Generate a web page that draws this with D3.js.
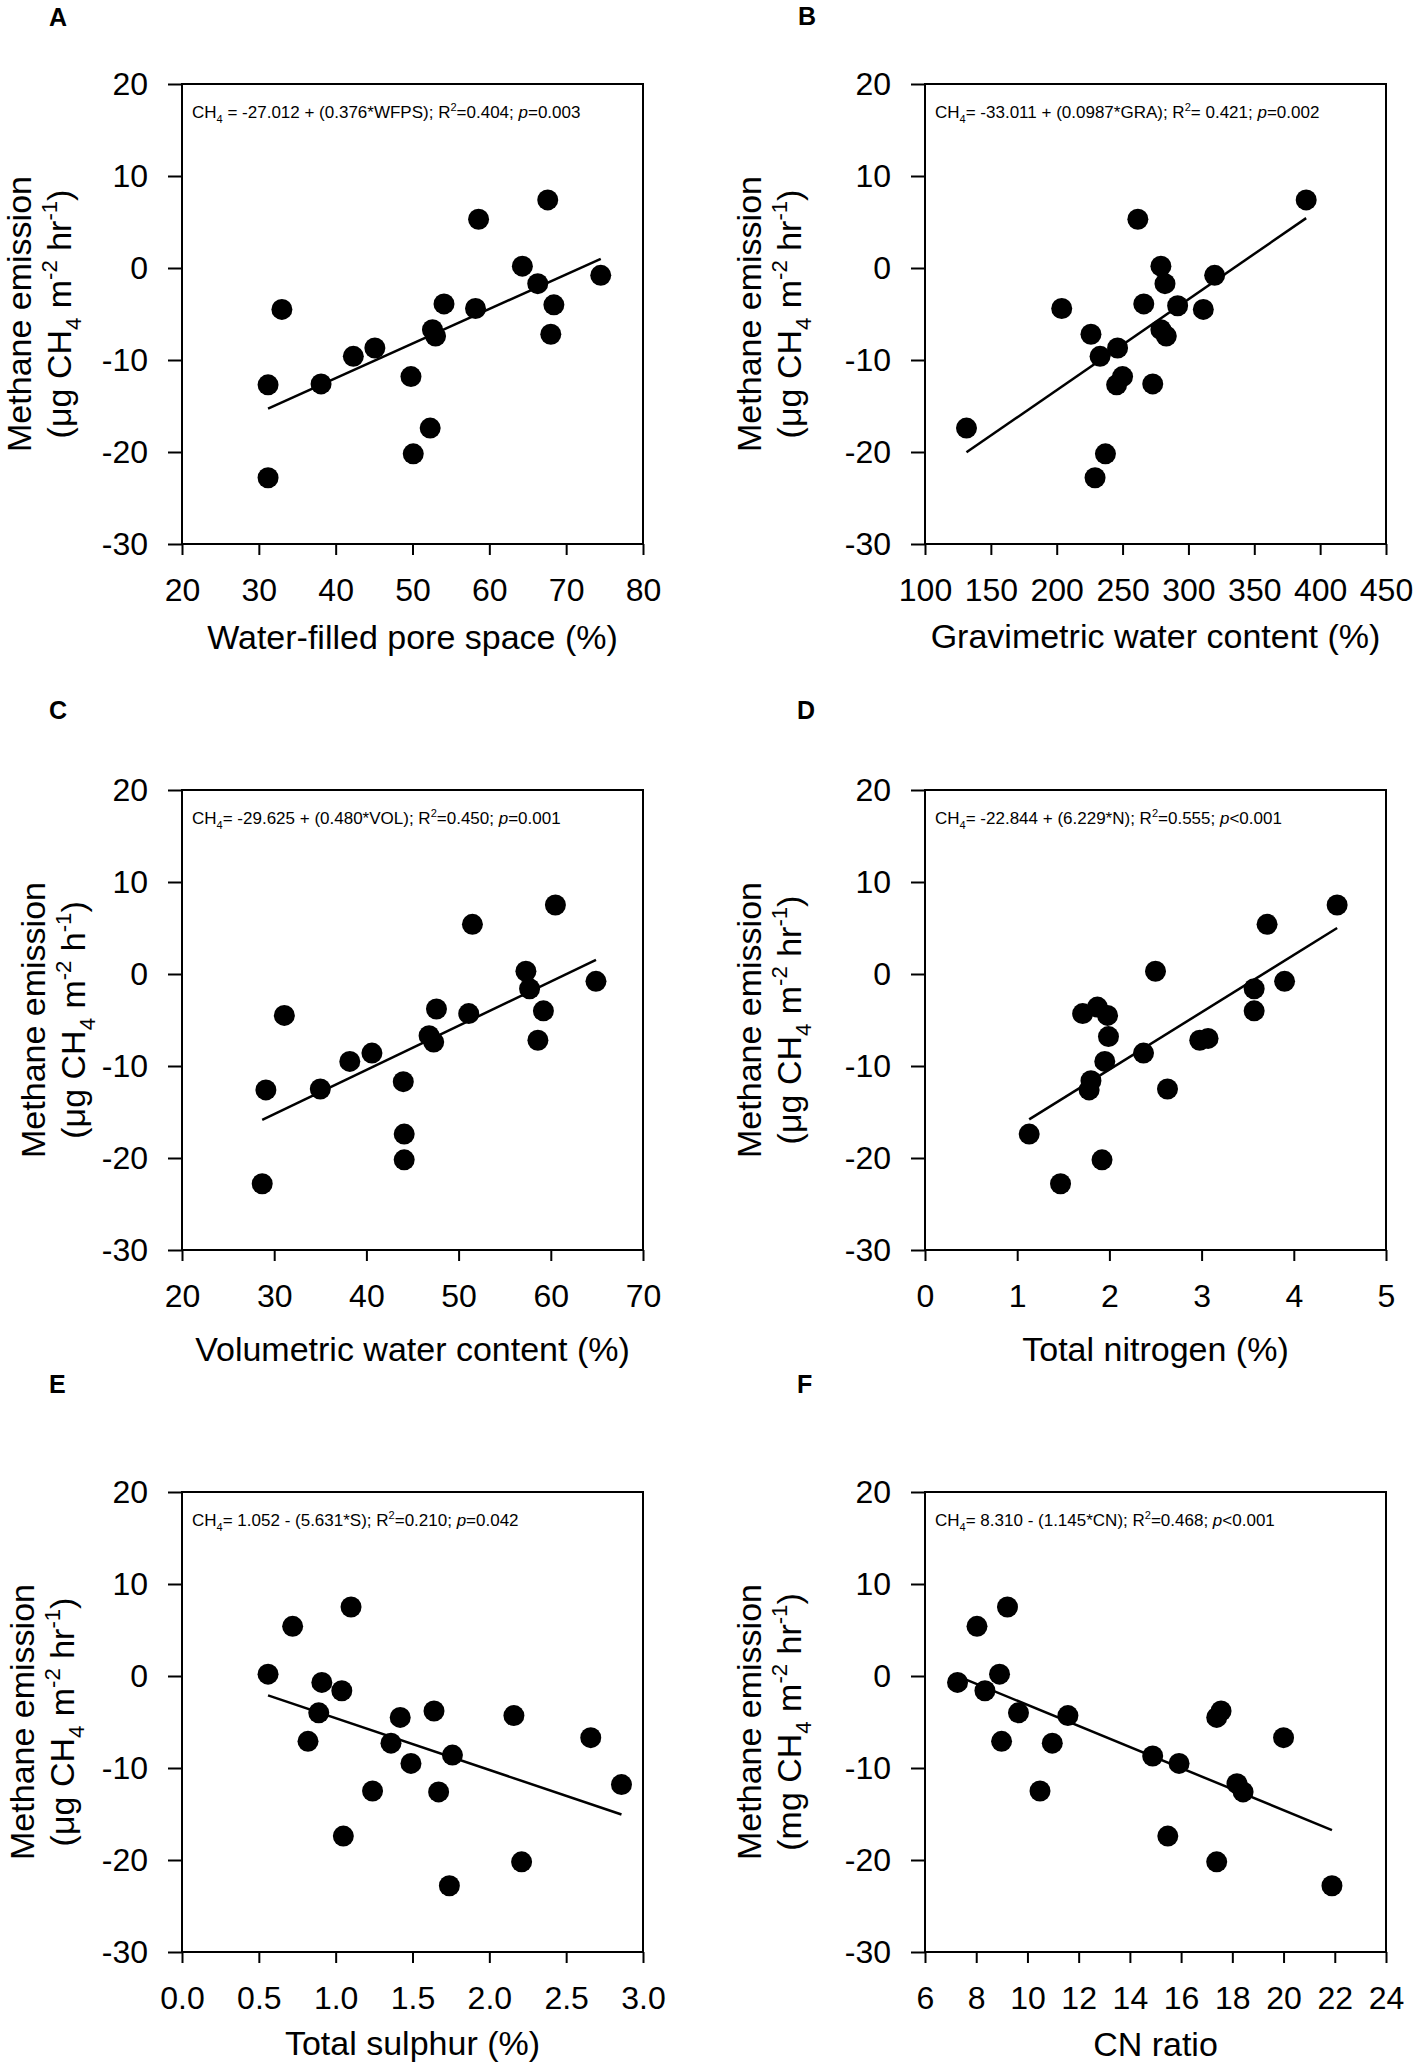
<!DOCTYPE html>
<html lang="en">
<head>
<meta charset="utf-8">
<title>Methane emission vs soil properties</title>
<script src="https://d3js.org/d3.v7.min.js"></script>
<style>
  html, body { margin: 0; padding: 0; background: #fff; }
  svg { display: block; }
  text { font-family: "Liberation Sans", Arial, sans-serif; fill: #000; }
</style>
</head>
<body>
<svg id="chart" width="1417" height="2064"></svg>
<script>
// ---- data ----
const yTicks = [-30, -20, -10, 0, 10, 20];

// A: water-filled pore space
const wfps = [31.2, 31.2, 33.0, 38.1, 42.3, 45.1, 49.8, 50.1, 52.3, 52.6, 53.0, 54.1, 58.2, 58.6, 64.3, 66.3, 67.6, 68.4, 68.0, 74.5];
const methaneA = [-12.7, -22.8, -4.5, -12.6, -9.6, -8.7, -11.8, -20.2, -17.4, -6.7, -7.4, -3.9, -4.4, 5.3, 0.2, -1.7, 7.4, -4.0, -7.2, -0.8];
const xTicksA = [20, 30, 40, 50, 60, 70, 80];

// B: gravimetric water content
const gra = [131.5, 203.8, 226.0, 232.9, 229.1, 237.0, 246.2, 245.5, 250.0, 261.6, 266.1, 272.9, 279.1, 282.2, 279.1, 283.2, 291.8, 311.3, 319.9, 389.4];
const methaneB = [-17.4, -4.4, -7.2, -9.6, -22.8, -20.2, -8.7, -12.7, -11.8, 5.3, -3.9, -12.6, 0.2, -1.7, -6.7, -7.4, -4.1, -4.5, -0.8, 7.4];
const xTicksB = [100, 150, 200, 250, 300, 350, 400, 450];

// C: volumetric water content
const vol = [29.1, 28.7, 31.1, 35.0, 38.2, 40.6, 44.0, 44.1, 44.1, 46.8, 47.3, 47.6, 51.1, 51.5, 57.3, 57.7, 60.5, 59.2, 58.6, 64.9];
const methaneC = [-12.6, -22.8, -4.5, -12.5, -9.5, -8.6, -11.7, -17.4, -20.2, -6.7, -7.4, -3.8, -4.3, 5.4, 0.3, -1.6, 7.5, -4.0, -7.2, -0.8];
const xTicksC = [20, 30, 40, 50, 60, 70];

// D: total nitrogen
const nitrogen = [1.13, 1.47, 1.71, 1.78, 1.80, 1.87, 1.98, 1.99, 1.95, 1.92, 2.37, 2.50, 2.63, 2.98, 3.07, 3.57, 3.57, 3.71, 3.90, 4.47];
const methaneD = [-17.4, -22.8, -4.3, -12.6, -11.6, -3.6, -4.5, -6.8, -9.5, -20.2, -8.6, 0.3, -12.5, -7.2, -7.0, -1.6, -4.0, 5.4, -0.8, 7.5];
const xTicksD = [0, 1, 2, 3, 4, 5];

// E: total sulphur
const sulphur = [0.56, 0.72, 1.10, 0.91, 0.89, 0.82, 1.04, 1.05, 1.24, 1.36, 1.42, 1.49, 1.64, 1.67, 1.76, 1.74, 2.16, 2.21, 2.66, 2.86];
const methaneE = [0.2, 5.4, 7.5, -0.7, -4.0, -7.1, -1.6, -17.4, -12.5, -7.3, -4.5, -9.5, -3.8, -12.6, -8.6, -22.8, -4.3, -20.2, -6.7, -11.8];
const xTicksE = [0.0, 0.5, 1.0, 1.5, 2.0, 2.5, 3.0];

// F: CN ratio
const cnRatio = [7.27, 8.03, 8.34, 8.91, 8.99, 9.22, 9.65, 10.49, 10.97, 11.58, 14.89, 15.92, 15.48, 17.39, 17.56, 17.39, 18.18, 18.42, 20.0, 21.89];
const methaneF = [-0.7, 5.4, -1.6, 0.2, -7.1, 7.5, -4.0, -12.5, -7.3, -4.3, -8.7, -9.5, -17.4, -4.5, -3.8, -20.2, -11.7, -12.6, -6.7, -22.8];
const xTicksF = [6, 8, 10, 12, 14, 16, 18, 20, 22, 24];

// fitted lines as printed in each panel
const fitIntercept = [-27.012, -33.011, -29.625, -22.844, 1.052, 8.310];
const fitSlope = [0.376, 0.0987, 0.480, 6.229, -5.631, -1.145];

// text ( _{} subscript, ^{} superscript, ~{} italic )
const panelLetters = ['A', 'B', 'C', 'D', 'E', 'F'];
const equations = [
  'CH_{4} = -27.012 + (0.376*WFPS); R^{2}=0.404; ~{p}=0.003',
  'CH_{4}= -33.011 + (0.0987*GRA); R^{2}= 0.421; ~{p}=0.002',
  'CH_{4}= -29.625 + (0.480*VOL); R^{2}=0.450; ~{p}=0.001',
  'CH_{4}= -22.844 + (6.229*N); R^{2}=0.555; ~{p}<0.001',
  'CH_{4}= 1.052 - (5.631*S); R^{2}=0.210; ~{p}=0.042',
  'CH_{4}= 8.310 - (1.145*CN); R^{2}=0.468; ~{p}<0.001'
];
const xTitles = [
  'Water-filled pore space (%)',
  'Gravimetric water content (%)',
  'Volumetric water content (%)',
  'Total nitrogen (%)',
  'Total sulphur (%)',
  'CN ratio'
];
const yTitleLine1 = 'Methane emission';
const yTitleLine2 = [
  '(μg CH_{4} m^{-2} hr^{-1})',
  '(μg CH_{4} m^{-2} hr^{-1})',
  '(μg CH_{4} m^{-2} h^{-1})',
  '(μg CH_{4} m^{-2} hr^{-1})',
  '(μg CH_{4} m^{-2} hr^{-1})',
  '(mg CH_{4} m^{-2} hr^{-1})'
];

const xValues = [wfps, gra, vol, nitrogen, sulphur, cnRatio];
const yValues = [methaneA, methaneB, methaneC, methaneD, methaneE, methaneF];
const xTickSets = [xTicksA, xTicksB, xTicksC, xTicksD, xTicksE, xTicksF];

// ---- layout (pixels) ----
const boxW = 461, boxH = 460;
const layout = [
  { left: 182, top: 84,   letterX: 49,  letterY: 26,   yTitleOff: 151, xTitleOff: 105 },
  { left: 925, top: 84,   letterX: 798, letterY: 25,   yTitleOff: 164, xTitleOff: 104 },
  { left: 182, top: 790,  letterX: 49,  letterY: 719,  yTitleOff: 137, xTitleOff: 111 },
  { left: 925, top: 790,  letterX: 797, letterY: 719,  yTitleOff: 164, xTitleOff: 111 },
  { left: 182, top: 1492, letterX: 49,  letterY: 1393, yTitleOff: 148, xTitleOff: 103 },
  { left: 925, top: 1492, letterX: 797, letterY: 1393, yTitleOff: 164, xTitleOff: 104 }
];

const svg = d3.select('#chart');
svg.append('rect').attr('width', 1417).attr('height', 2064).attr('fill', '#fff');

// writes marked-up text into a <text> node using tspans
function richText(sel, str, fs) {
  const parts = str.split(/(_\{[^}]*\}|\^\{[^}]*\}|~\{[^}]*\})/).filter(s => s.length);
  let shift = 0;
  parts.forEach(p => {
    let txt = p, size = fs, target = 0, italic = false;
    if (p.startsWith('_{')) { txt = p.slice(2, -1); size = fs * 0.65; target = fs * 0.28; }
    else if (p.startsWith('^{')) { txt = p.slice(2, -1); size = fs * 0.65; target = -fs * 0.42; }
    else if (p.startsWith('~{')) { txt = p.slice(2, -1); italic = true; }
    const t = sel.append('tspan')
      .attr('font-size', size)
      .attr('dy', target - shift)
      .text(txt);
    if (italic) t.attr('font-style', 'italic');
    shift = target;
  });
}

const hyphenFmt = d => String(d).replace('\u2212', '-');

layout.forEach((L, i) => {
  const xt = xTickSets[i];
  const x = d3.scaleLinear().domain([xt[0], xt[xt.length - 1]]).range([0, boxW]);
  const y = d3.scaleLinear().domain([yTicks[0], yTicks[yTicks.length - 1]]).range([boxH, 0]);
  const g = svg.append('g').attr('transform', `translate(${L.left},${L.top})`);

  // axes
  const yAxis = d3.axisLeft(y).tickValues(yTicks).tickSize(14).tickSizeOuter(0).tickPadding(20).tickFormat(hyphenFmt);
  const xFmt = i === 4 ? d3.format('.1f') : hyphenFmt;
  const xAxis = d3.axisBottom(x).tickValues(xt).tickSize(11).tickSizeOuter(0).tickPadding(23).tickFormat(xFmt);

  const ya = g.append('g').call(yAxis);
  const xa = g.append('g').attr('transform', `translate(0,${boxH})`).call(xAxis);
  [ya, xa].forEach(a => {
    a.select('.domain').remove();
    a.selectAll('line').attr('stroke', '#000').attr('stroke-width', 2);
    a.selectAll('text').attr('font-size', 32).attr('font-family', '"Liberation Sans", Arial, sans-serif').attr('fill', '#000');
  });

  // frame
  g.append('rect')
    .attr('width', boxW).attr('height', boxH)
    .attr('fill', 'none').attr('stroke', '#000').attr('stroke-width', 2);

  // regression line over the data range
  const ext = d3.extent(xValues[i]);
  const fit = ext.map(v => [v, fitIntercept[i] + fitSlope[i] * v]);
  g.append('path')
    .attr('d', d3.line().x(d => x(d[0])).y(d => y(d[1]))(fit))
    .attr('fill', 'none').attr('stroke', '#000').attr('stroke-width', 2.5);

  // points
  g.selectAll('circle.pt')
    .data(d3.zip(xValues[i], yValues[i]))
    .join('circle')
    .attr('class', 'pt')
    .attr('cx', d => x(d[0]))
    .attr('cy', d => y(d[1]))
    .attr('r', 10.5)
    .attr('fill', '#000');

  // equation
  const eq = g.append('text').attr('x', 10).attr('y', 34).attr('font-size', 17);
  richText(eq, equations[i], 17);

  // x title
  g.append('text')
    .attr('x', boxW / 2).attr('y', boxH + L.xTitleOff)
    .attr('text-anchor', 'middle').attr('font-size', 34)
    .text(xTitles[i]);

  // y title (two lines)
  const yt = g.append('g').attr('transform', `translate(${-L.yTitleOff},${boxH / 2}) rotate(-90)`);
  yt.append('text').attr('text-anchor', 'middle').attr('font-size', 34).text(yTitleLine1);
  const l2 = yt.append('text').attr('text-anchor', 'middle').attr('y', 40).attr('font-size', 34);
  richText(l2, yTitleLine2[i], 34);

  // panel letter
  svg.append('text')
    .attr('x', L.letterX).attr('y', L.letterY)
    .attr('font-size', 25).attr('font-weight', 'bold')
    .text(panelLetters[i]);
});
</script>
</body>
</html>
